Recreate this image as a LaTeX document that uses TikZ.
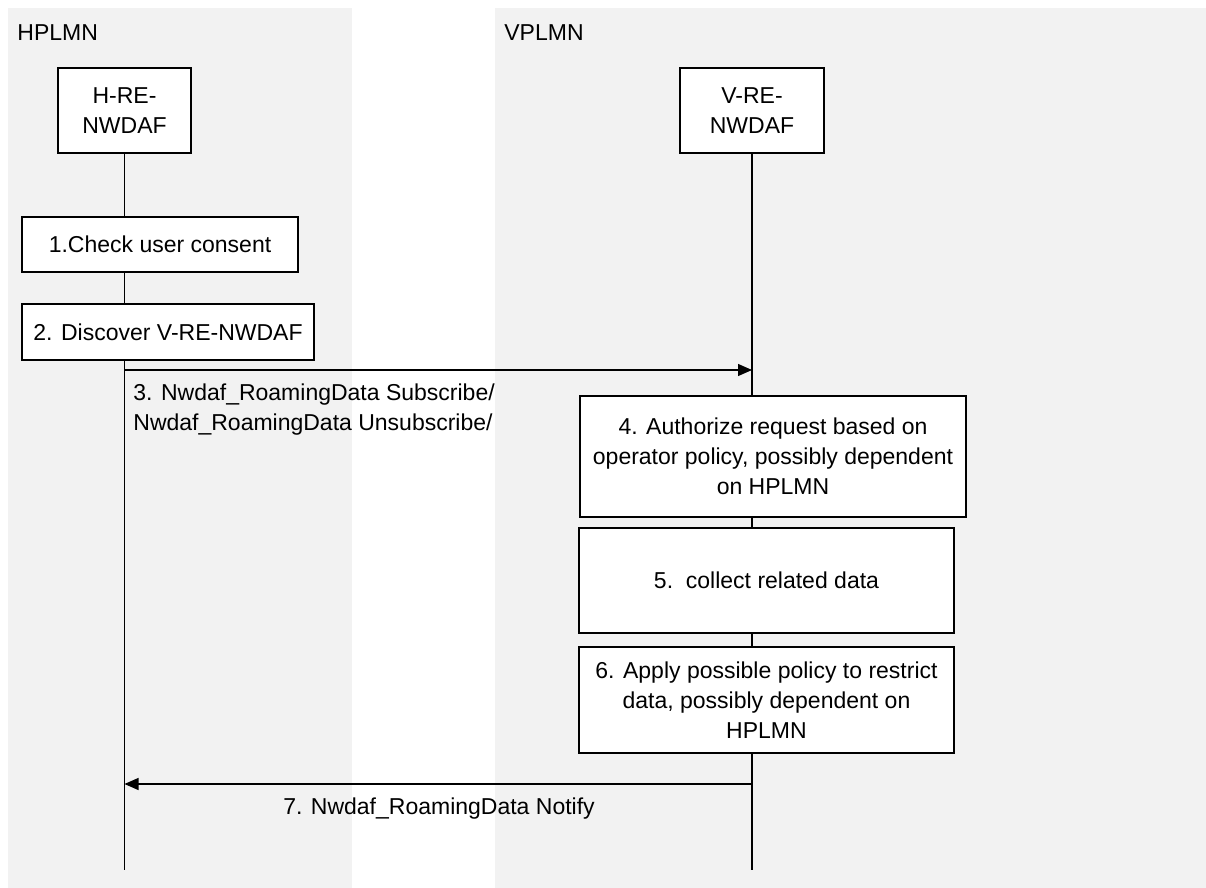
\documentclass[tikz,border=0pt]{standalone}
\usepackage{fontspec}
\setmainfont{Liberation Sans}
\usetikzlibrary{arrows.meta,positioning}
\definecolor{zonegray}{RGB}{242,242,242}
\tikzset{
  entity/.style={rectangle, draw=black, line width=0.6pt, fill=white, align=center,
                 font=\fontsize{11.5}{15}\selectfont, inner sep=2pt},
  stepbox/.style={rectangle, draw=black, line width=0.6pt, fill=white, align=center,
                  font=\fontsize{11.5}{15}\selectfont, inner sep=2pt},
  lifeline/.style={draw=black, line width=0.6pt},
  ar/.style={-{Triangle[length=7pt,width=6pt]}, line width=0.6pt},
  lbl/.style={font=\fontsize{11.5}{15}\selectfont, inner sep=0pt},
}

\begin{document}
\begin{tikzpicture}[x=0.5pt,y=-0.5pt]
\useasboundingbox (0,0) rectangle (1206,888);

% ===================== operator domains ==================================
\fill[zonegray] (8,8) rectangle (352,888);
\fill[zonegray] (495,8) rectangle (1206,888);
\node[lbl, anchor=west] (hplmn) at (17,33) {HPLMN};
\node[lbl, anchor=west] (vplmn) at (504,33) {VPLMN};

% ===================== entities and lifelines ============================
\node[entity, minimum width=66.5pt, minimum height=42.5pt] (hnf) at (124.5,110.5) {H-RE-\\NWDAF};
\node[entity, minimum width=72pt, minimum height=42.5pt] (vnf) at (752,110.5) {V-RE-\\NWDAF};
\coordinate (hend) at (124.5,870);
\coordinate (vend) at (752,870);
\draw[lifeline] (hnf.south) -- (hend);
\draw[lifeline] (vnf.south) -- (vend);

% ===================== HPLMN side steps ==================================
\node[stepbox, minimum width=138pt, minimum height=27.5pt] (s1) at (160,244.5) {1.Check user consent};
\node[stepbox, minimum width=146pt, minimum height=28pt] (s2) at (168,332) {2. Discover V-RE-NWDAF};

% ---- step 3 request ------------------------------------------------------
\coordinate (m3a) at (124.5,370);
\coordinate (m3b) at (752,370);
\draw[ar] (m3a) -- (m3b);
\node[lbl, anchor=west, align=left] (l3) at (133,410)
  {3. Nwdaf\_RoamingData Subscribe/\\Nwdaf\_RoamingData Unsubscribe/};

% ===================== VPLMN side steps ==================================
\node[stepbox, minimum width=193pt, minimum height=60.5pt] (s4) at (773,456.5)
  {4. Authorize request based on\\operator policy, possibly dependent\\on HPLMN};
\node[stepbox, minimum width=187.5pt, minimum height=52.5pt] (s5) at (766.5,580.5)
  {5.\ \ collect related data};
\node[stepbox, minimum width=187.5pt, minimum height=53pt] (s6) at (766.5,700)
  {6. Apply possible policy to restrict\\data, possibly dependent on\\HPLMN};

% ---- step 7 notification -------------------------------------------------
\coordinate (m7a) at (752,784);
\coordinate (m7b) at (124.5,784);
\draw[ar] (m7a) -- (m7b);
\node[lbl] (l7) at (439,809) {7. Nwdaf\_RoamingData Notify};

\end{tikzpicture}
\end{document}
